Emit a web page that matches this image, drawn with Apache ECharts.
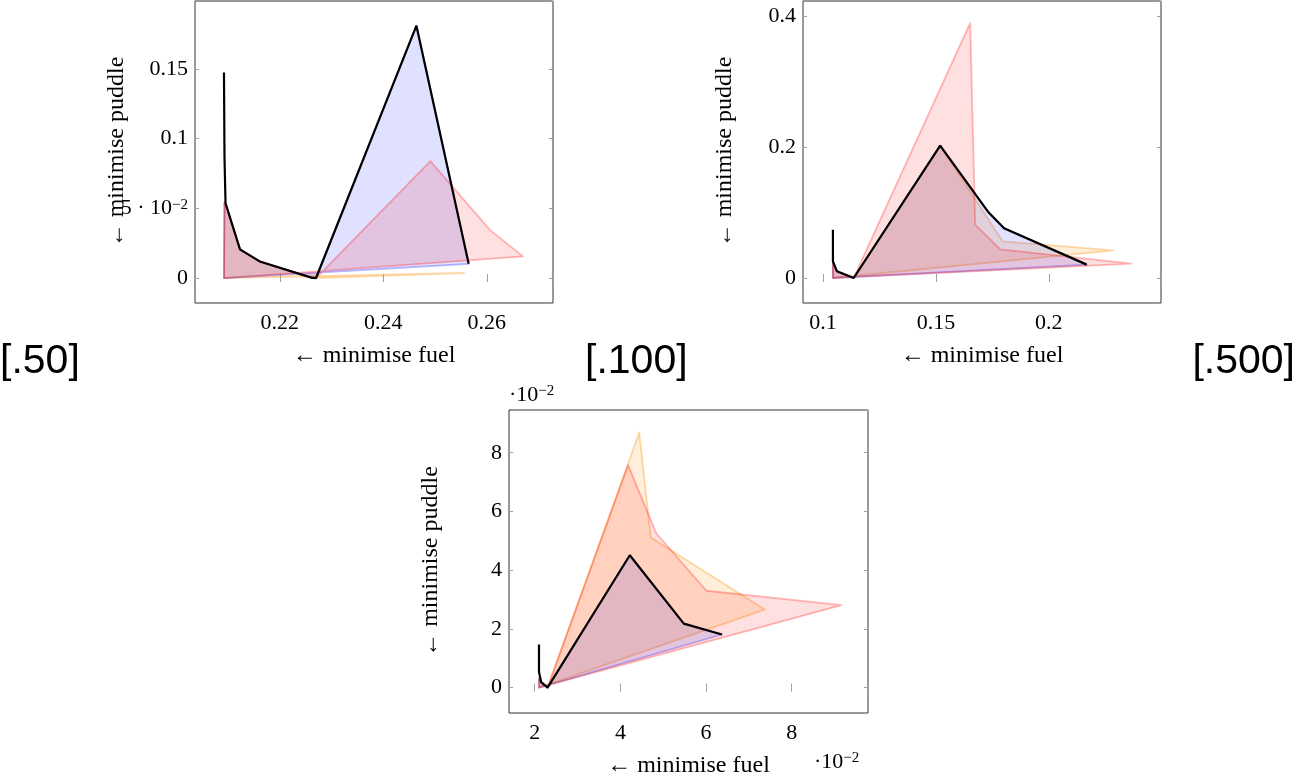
<!DOCTYPE html>
<html>
<head>
<meta charset="utf-8">
<script src="https://cdn.jsdelivr.net/npm/echarts@6/dist/echarts.min.js"></script>
<style>
html,body{margin:0;padding:0;background:#fff;}
#c{width:1295px;height:772px;}
</style>
</head>
<body>
<div id="c"></div>
<script>
// ---------- DATA ----------
// Plot [.50]  (fuel, puddle)
const p50Mean   = [[0.2092,0.1474],[0.2093,0.0869],[0.2095,0.0536],[0.2123,0.0205],[0.2161,0.0119],[0.2261,0.0003],[0.2270,0.0],[0.2464,0.1809],[0.2565,0.0102]];
const p50Red    = [[0.2092,0.0],[0.2093,0.0540],[0.2095,0.0536],[0.2123,0.0205],[0.2161,0.0119],[0.2261,0.0003],[0.2270,0.0],[0.2491,0.0838],[0.2606,0.0345],[0.2670,0.0155]];
const p50Blue   = [[0.2092,0.0],[0.2093,0.0540],[0.2095,0.0536],[0.2123,0.0205],[0.2161,0.0119],[0.2261,0.0003],[0.2270,0.0],[0.2464,0.1809],[0.2565,0.0102]];
const p50Orange = [[0.2092,0.0],[0.2093,0.0540],[0.2095,0.0536],[0.2123,0.0205],[0.2161,0.0119],[0.2261,0.0003],[0.2270,0.0],[0.2556,0.0036]];
// Plot [.100]
const p100Mean   = [[0.1044,0.0738],[0.1044,0.0254],[0.1062,0.0102],[0.1136,0.0],[0.1519,0.2020],[0.1733,0.1003],[0.1802,0.0758],[0.2168,0.0204]];
const p100Red    = [[0.1044,0.0],[0.1044,0.0400],[0.1044,0.0254],[0.1062,0.0102],[0.1136,0.0],[0.1652,0.3893],[0.1674,0.0814],[0.1785,0.0437],[0.2367,0.0219]];
const p100Blue   = [[0.1044,0.0],[0.1044,0.0254],[0.1062,0.0102],[0.1136,0.0],[0.1519,0.2020],[0.1733,0.1003],[0.1802,0.0758],[0.2168,0.0204]];
const p100Orange = [[0.1044,0.0],[0.1044,0.0254],[0.1062,0.0102],[0.1136,0.0],[0.1519,0.2020],[0.1796,0.0559],[0.2286,0.0421]];
// Plot [.500]  (values in units of 10^-2)
const p500Mean   = [[2.10,1.47],[2.10,0.53],[2.15,0.19],[2.30,0.0],[4.22,4.51],[5.48,2.18],[6.37,1.81]];
const p500Red    = [[2.10,0.0],[2.10,0.30],[2.15,0.19],[2.30,0.0],[4.18,7.58],[4.84,5.25],[6.01,3.30],[9.16,2.81]];
const p500Blue   = [[2.10,0.0],[2.10,0.30],[2.15,0.19],[2.30,0.0],[4.22,4.51],[5.48,2.18],[6.37,1.81]];
const p500Orange = [[2.10,0.0],[2.10,0.30],[2.15,0.19],[2.30,0.0],[4.44,8.69],[4.71,5.11],[7.37,2.66]];

const xName = '\u2190 minimise fuel';
const yName = '\u2190 minimise puddle';
const panelTags = ['[.50]', '[.100]', '[.500]'];

// ---------- CHART ----------
const chart = echarts.init(document.getElementById('c'), null, {renderer:'canvas'});
const SERIF = '"Liberation Serif", "DejaVu Serif", serif';
const FS = 22;   // tick labels
const NFS = 24;  // axis names

const grids = [
  {left:195, top:1,   width:358, height:302},
  {left:803, top:1,   width:358, height:302},
  {left:509, top:410, width:359, height:303}
];
const axesCfg = [
  {x:[0.2036,0.2728], xs:3, xStep:0.02, y:[-0.0179,0.1986], ys:4, yStep:0.05,
   xf: v => v.toFixed(2), yf: v => Math.abs(v-0.05)<1e-9 ? '5 \u00b7 10{sup|\u22122}' : (Math.abs(v)<1e-9 ? '0' : String(+v.toFixed(2)))},
  {x:[0.09115,0.2497], xs:3, xStep:0.05, y:[-0.0382,0.4229], ys:2, yStep:0.2,
   xf: v => String(+v.toFixed(2)), yf: v => Math.abs(v)<1e-9 ? '0' : String(+v.toFixed(1))},
  {x:[1.40,9.78], xs:4, xStep:2, y:[-0.864,9.456], ys:5, yStep:2,
   xf: v => String(Math.round(v)), yf: v => String(Math.round(v))}
];
function stepFmt(step, fn){
  return function(v){
    const k = v/step;
    if (Math.abs(k-Math.round(k)) > 1e-6) return '';
    return fn(Math.round(k)*step);
  };
}
const tickStyle = {show:true, inside:true, length:4, lineStyle:{color:'#a0a0a0', width:1}};
const richSup = {sup:{fontFamily:SERIF, fontSize:15, color:'#000', verticalAlign:'top', lineHeight:12}};

const xAxes = [], yAxes = [];
axesCfg.forEach((c,i)=>{
  xAxes.push({type:'value', gridIndex:i, position:'bottom', min:c.x[0], max:c.x[1], splitNumber:c.xs,
    name:xName, nameLocation:'middle', nameGap:41, nameMoveOverlap:false,
    nameTextStyle:{fontFamily:SERIF, fontSize:NFS, color:'#000'},
    axisLine:{show:false}, axisTick:tickStyle, splitLine:{show:false},
    axisLabel:{fontFamily:SERIF, fontSize:FS, color:'#000', margin:9, showMinLabel:false, showMaxLabel:false,
      formatter: stepFmt(c.xStep, c.xf)}});
  xAxes.push({type:'value', gridIndex:i, position:'top', min:c.x[0], max:c.x[1], splitNumber:c.xs,
    axisLine:{show:false}, axisTick:tickStyle, splitLine:{show:false}, axisLabel:{show:false}});
  yAxes.push({type:'value', gridIndex:i, position:'left', min:c.y[0], max:c.y[1], splitNumber:c.ys,
    name:yName, nameLocation:'middle', nameGap:66, nameRotate:90, nameMoveOverlap:false,
    nameTextStyle:{fontFamily:SERIF, fontSize:NFS, color:'#000'},
    axisLine:{show:false}, axisTick:tickStyle, splitLine:{show:false},
    axisLabel:{fontFamily:SERIF, fontSize:FS, color:'#000', margin:7, showMinLabel:false, showMaxLabel:false,
      formatter: stepFmt(c.yStep, c.yf), rich:richSup}});
  yAxes.push({type:'value', gridIndex:i, position:'right', min:c.y[0], max:c.y[1], splitNumber:c.ys,
    axisLine:{show:false}, axisTick:tickStyle, splitLine:{show:false}, axisLabel:{show:false}});
});

const COLORS = {
  red:    {fill:'rgba(255,0,0,0.12)',   stroke:'rgba(255,0,0,0.27)'},
  blue:   {fill:'rgba(0,0,255,0.12)',   stroke:'rgba(0,0,255,0.27)'},
  orange: {fill:'rgba(255,140,0,0.15)', stroke:'rgba(255,140,0,0.32)'}
};
function polySeries(gi, pts, col, z){
  return {
    type:'custom', xAxisIndex:gi*2, yAxisIndex:gi*2, data:pts, silent:true, z:z,
    renderItem:function(params, api){
      if (params.dataIndex !== 0) return {type:'group', children:[]};
      const coords = pts.map(p => api.coord(p));
      return {type:'polygon', shape:{points:coords},
        style:{fill:COLORS[col].fill, stroke:COLORS[col].stroke, lineWidth:1.8, lineJoin:'round'}};
    }
  };
}
function meanSeries(gi, pts){
  return {type:'line', xAxisIndex:gi*2, yAxisIndex:gi*2, data:pts, showSymbol:false, silent:true, z:10,
    lineStyle:{color:'#000', width:2.2}, animation:false};
}
const panels = [
  [p50Mean,  p50Red,  p50Blue,  p50Orange],
  [p100Mean, p100Red, p100Blue, p100Orange],
  [p500Mean, p500Red, p500Blue, p500Orange]
];
const series = [];
panels.forEach((p,gi)=>{
  series.push(polySeries(gi, p[3], 'orange', 2));
  series.push(polySeries(gi, p[2], 'blue', 3));
  series.push(polySeries(gi, p[1], 'red', 4));
  series.push(meanSeries(gi, p[0]));
});

const tagStyle = {fontFamily:'"Liberation Sans", "DejaVu Sans", sans-serif', fontSize:41, fill:'#000'};
const supRich = {s:{fontFamily:SERIF, fontSize:15, verticalAlign:'top', lineHeight:12}};
const graphic = [
  {type:'text', left:0,    top:341, style:Object.assign({text:panelTags[0]}, tagStyle)},
  {type:'text', left:585,  top:341, style:Object.assign({text:panelTags[1]}, tagStyle)},
  {type:'text', right:0,   top:341, style:Object.assign({text:panelTags[2]}, tagStyle)},
  {type:'text', left:509, top:384, style:{text:'\u00b710{s|\u22122}', fontFamily:SERIF, fontSize:FS, fill:'#000', rich:supRich}},
  {type:'text', left:814, top:751, style:{text:'\u00b710{s|\u22122}', fontFamily:SERIF, fontSize:FS, fill:'#000', rich:supRich}}
];

chart.setOption({
  animation:false,
  backgroundColor:'#fff',
  grid: grids.map(g => Object.assign({show:true, borderColor:'#333', borderWidth:1, backgroundColor:'transparent', outerBoundsMode:'none', containLabel:false}, g)),
  xAxis:xAxes, yAxis:yAxes, series:series, graphic:graphic
});
</script>
</body>
</html>
